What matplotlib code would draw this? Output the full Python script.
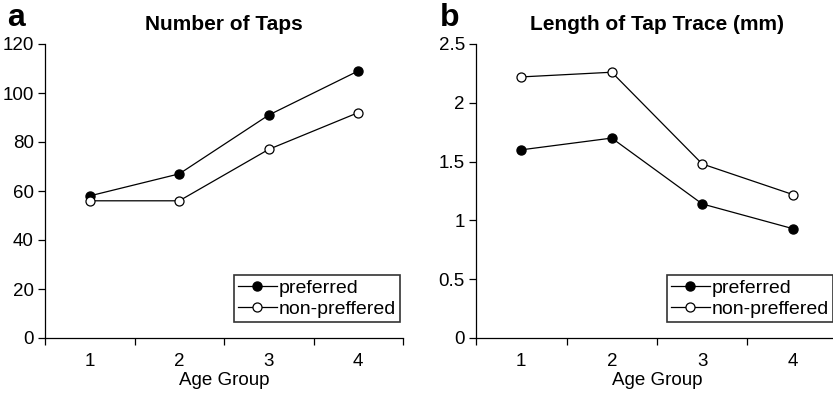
import matplotlib
matplotlib.use("Agg")
import matplotlib.pyplot as plt
import numpy as np

plt.rcParams['font.family'] = ['Liberation Sans', 'DejaVu Sans']

groups = [1, 2, 3, 4]
taps_pref = [58, 67, 91, 109]
taps_nonpref = [56, 56, 77, 92]
trace_pref = [1.60, 1.70, 1.14, 0.93]
trace_nonpref = [2.22, 2.26, 1.48, 1.22]

fig = plt.figure(figsize=(8.33, 3.93), dpi=100)
ax_a = fig.add_axes([45/833, 55/393, 358/833, 294/393])
ax_b = fig.add_axes([476/833, 55/393, 362/833, 294/393])


def style(ax, pref, nonpref, title, ylim, yticks, yfmt):
    ax.plot(groups, pref, color='black', lw=0.9, marker='o', ms=6.5,
            mfc='black', mec='black', label='preferred', clip_on=False)
    ax.plot(groups, nonpref, color='black', lw=0.9, marker='o', ms=6.5,
            mfc='white', mec='black', mew=0.9, label='non-preffered', clip_on=False)
    ax.set_xlim(0.5, 4.5)
    ax.set_ylim(*ylim)
    ax.set_yticks(yticks)
    ax.set_yticklabels([yfmt(v) for v in yticks])
    ax.set_xticks(groups)
    ax.set_xticks(np.arange(0.5, 4.6, 1), minor=True)
    ax.tick_params(axis='x', which='major', length=0, pad=11, labelsize=13.5)
    ax.tick_params(axis='x', which='minor', length=5, width=0.9, direction='out')
    ax.tick_params(axis='y', length=5, width=0.9, direction='out', pad=3, labelsize=13.5)
    for s in ['top', 'right']:
        ax.spines[s].set_visible(False)
    for s in ['left', 'bottom']:
        ax.spines[s].set_linewidth(0.9)
    ax.set_xlabel('Age Group', fontsize=13.5, labelpad=1)
    ax.set_title(title, fontsize=15, fontweight='bold', pad=10)
    leg = ax.legend(loc='lower left', bbox_to_anchor=(0.528, 0.054), fontsize=14,
                    frameon=True, fancybox=False, edgecolor='black',
                    handlelength=2.0, handletextpad=0.1, borderpad=0.2,
                    labelspacing=0.2, borderaxespad=0)
    leg.get_frame().set_linewidth(1.2)


style(ax_a, taps_pref, taps_nonpref, 'Number of Taps', (0, 120),
      [0, 20, 40, 60, 80, 100, 120], lambda v: f'{v:g}')
style(ax_b, trace_pref, trace_nonpref, 'Length of Tap Trace (mm)', (0, 2.5),
      [0, 0.5, 1, 1.5, 2, 2.5], lambda v: f'{v:g}')

fig.text(7/833, 1 - 26/393, 'a', fontsize=23, fontweight='bold', va='baseline')
fig.text(440/833, 1 - 26/393, 'b', fontsize=23, fontweight='bold', va='baseline')

fig.savefig('out.png', dpi=100)
